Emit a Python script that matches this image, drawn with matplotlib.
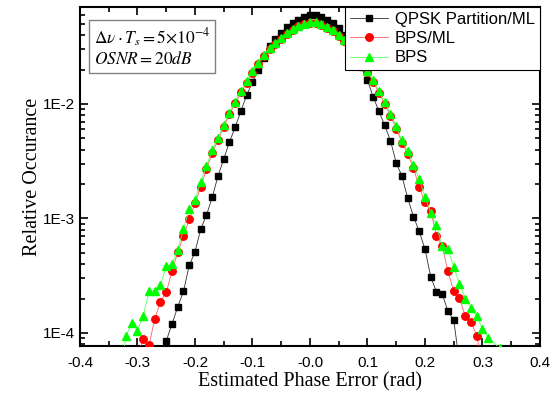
import matplotlib
matplotlib.use('Agg')
import matplotlib.pyplot as plt
import numpy as np
from matplotlib.ticker import MultipleLocator, FixedLocator, FixedFormatter, LogLocator, NullFormatter

# donnees
x_qpsk = np.round(np.arange(-0.26, 0.265, 0.01), 2)
y_qpsk = [6.2e-5, 8.5e-5, 1.2e-4, 1.69e-4, 2.31e-4, 3.9e-4, 5.1e-4, 8.1e-4, 1.07e-3, 1.54e-3,
          2.34e-3, 3.31e-3, 4.66e-3, 6.3e-3, 8.7e-3, 1.2e-2, 1.55e-2, 2.0e-2, 2.52e-2, 3.23e-2,
          3.7e-2, 4.17e-2, 4.7e-2, 5.1e-2, 5.45e-2, 5.75e-2, 6.0e-2, 5.95e-2, 5.75e-2, 5.45e-2,
          5.1e-2, 4.6e-2, 4.0e-2, 3.4e-2, 2.75e-2, 2.1e-2, 1.61e-2, 1.15e-2, 8.6e-3, 6.5e-3,
          4.78e-3, 3.05e-3, 2.34e-3, 1.5e-3, 1.04e-3, 7.7e-4, 5.4e-4, 3.1e-4, 2.28e-4, 2.19e-4,
          1.55e-4, 1.29e-4, 5.5e-5]

x_bpsml = np.round(np.arange(-0.30, 0.305, 0.01), 2)
y_bpsml = [6.5e-5, 8.9e-5, 7.8e-5, 1.33e-4, 1.88e-4, 2.26e-4, 3.46e-4, 5.07e-4, 7.0e-4, 9.8e-4,
           1.36e-3, 1.88e-3, 2.7e-3, 3.75e-3, 4.85e-3, 6.35e-3, 8.1e-3, 1.01e-2, 1.26e-2, 1.53e-2,
           1.87e-2, 2.22e-2, 2.63e-2, 3.0e-2, 3.33e-2, 3.7e-2, 4.1e-2, 4.45e-2, 4.75e-2, 4.95e-2,
           5.12e-2, 5.08e-2, 4.88e-2, 4.62e-2, 4.32e-2, 3.93e-2, 3.53e-2, 3.13e-2, 2.68e-2, 2.24e-2,
           1.89e-2, 1.56e-2, 1.25e-2, 1.0e-2, 7.9e-3, 6.1e-3, 4.6e-3, 3.65e-3, 2.75e-3, 1.88e-3,
           1.38e-3, 1.16e-3, 7.1e-4, 5.7e-4, 3.46e-4, 2.31e-4, 2.02e-4, 1.4e-4, 1.25e-4, 9.5e-5,
           5.2e-5]

x_bps = list(np.round(np.arange(-0.33, 0.315, 0.01), 2)) + [0.33, 0.34]
y_bps = [4.5e-5, 9.35e-5, 1.22e-4, 1.05e-4, 1.42e-4, 2.31e-4, 2.34e-4, 2.64e-4, 3.83e-4, 4.0e-4,
         5.33e-4, 8.1e-4, 1.21e-3, 1.46e-3, 2.08e-3, 2.86e-3, 3.94e-3, 5.05e-3, 6.6e-3, 8.4e-3,
         1.05e-2, 1.3e-2, 1.58e-2, 1.93e-2, 2.28e-2, 2.7e-2, 3.08e-2, 3.41e-2, 3.77e-2, 4.17e-2,
         4.52e-2, 4.83e-2, 5.02e-2, 5.2e-2, 5.15e-2, 4.95e-2, 4.7e-2, 4.4e-2, 4.0e-2, 3.6e-2,
         3.2e-2, 2.75e-2, 2.3e-2, 1.95e-2, 1.61e-2, 1.29e-2, 1.035e-2, 8.2e-3, 6.4e-3, 4.8e-3,
         3.86e-3, 2.95e-3, 2.21e-3, 1.54e-3, 1.12e-3, 8.7e-4, 5.7e-4, 5.45e-4, 3.77e-4, 2.7e-4,
         2.0e-4, 1.65e-4, 1.4e-4, 1.08e-4, 9.0e-5, 7.4e-5, 4.0e-5]

labels = ['QPSK Partition/ML', 'BPS/ML', 'BPS']
ytick_vals = [1e-4, 1e-3, 1e-2]
ytick_txt = ['1E-4', '1E-3', '1E-2']

plt.rcParams['mathtext.fontset'] = 'stix'

fig = plt.figure(figsize=(5.54, 3.98), dpi=100)
ax = fig.add_axes([0.1444, 0.1307, 0.8303, 0.8517])

ax.plot(x_qpsk, y_qpsk, color='#303030', lw=0.6, marker='s', ms=4.6,
        mfc='black', mec='black', label=labels[0], zorder=3)
ax.plot(x_bpsml, y_bpsml, color='#ff6060', lw=0.6, marker='o', ms=5.4,
        mfc='red', mec='red', label=labels[1], zorder=4)
ax.plot(x_bps, y_bps, color='#60ff60', lw=0.6, marker='^', ms=6,
        mfc='#00ff00', mec='#00ff00', label=labels[2], zorder=5)

ax.set_yscale('log')
ax.set_xlim(-0.4, 0.4)
ax.set_ylim(7.7e-5, 7.03e-2)

xt = np.round(np.arange(-0.4, 0.41, 0.1), 1)
ax.set_xticks(xt)
ax.set_xticklabels(['%.1f' % v for v in xt])
ax.xaxis.set_minor_locator(MultipleLocator(0.05))
ax.yaxis.set_major_locator(FixedLocator(ytick_vals))
ax.yaxis.set_major_formatter(FixedFormatter(ytick_txt))
ax.yaxis.set_minor_locator(LogLocator(base=10, subs=np.arange(2, 10)))
ax.yaxis.set_minor_formatter(NullFormatter())

for lab in ax.get_xticklabels() + ax.get_yticklabels():
    lab.set_family('Liberation Sans')
    lab.set_fontsize(11)

ax.tick_params(which='both', direction='in', top=True, right=True, width=1.2)
ax.tick_params(which='major', length=6)
ax.tick_params(which='minor', length=3.5)
ax.tick_params(axis='x', pad=7)
for s in ax.spines.values():
    s.set_linewidth(1.5)

ax.set_xlabel('Estimated Phase Error (rad)', family='Liberation Serif', fontsize=14.5, labelpad=2)
ax.set_ylabel('Relative Occurance', family='Liberation Serif', fontsize=14.5, labelpad=1)

# encadre des parametres
ax.text(0.03, 0.942, r'$\Delta\nu\cdot T_s = 5{\times}10^{-4}$' + '\n' + r'$OSNR = 20dB$',
        transform=ax.transAxes, va='top', ha='left', fontsize=12.5, linespacing=1.05,
        bbox=dict(boxstyle='square,pad=0.3', fc='white', ec='#808080', lw=1))

leg = ax.legend(loc='upper right', prop={'family': 'Liberation Sans', 'size': 12},
                frameon=True, fancybox=False, framealpha=1, edgecolor='black',
                borderpad=0.3, handlelength=2.3, handletextpad=0.4, labelspacing=0.25,
                borderaxespad=0.0)
leg.get_frame().set_linewidth(0.8)
leg.set_zorder(10)

fig.savefig('out.png', dpi=100)
